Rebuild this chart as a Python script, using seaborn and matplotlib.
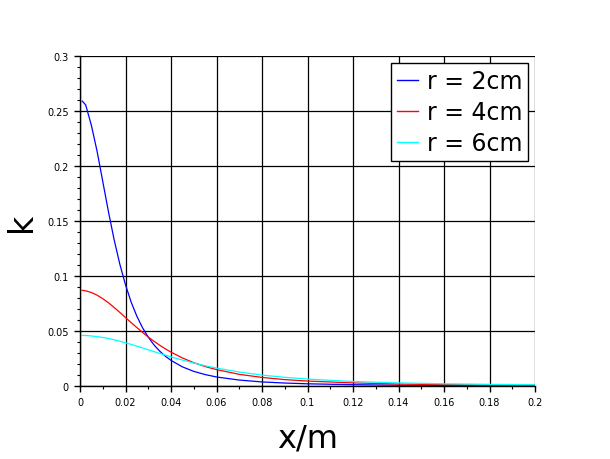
import matplotlib
matplotlib.use("Agg")
import matplotlib.pyplot as plt
import seaborn as sns
import pandas as pd
from matplotlib.ticker import MultipleLocator, FixedLocator, FixedFormatter

# x positions (m)
x_vals = [0.001, 0.0025, 0.005, 0.0075, 0.01, 0.0125, 0.015, 0.0175, 0.02, 0.0225,
          0.025, 0.0275, 0.03, 0.0325, 0.035, 0.0375, 0.04, 0.045, 0.05, 0.055,
          0.06, 0.07, 0.08, 0.09, 0.1, 0.12, 0.14, 0.16, 0.18, 0.2]
k_r2 = [0.259, 0.2555, 0.237, 0.2135, 0.186, 0.1585, 0.133, 0.1108, 0.092, 0.0762,
        0.0634, 0.0529, 0.0444, 0.0374, 0.0318, 0.0271, 0.0233, 0.0174, 0.0133, 0.0104,
        0.0082, 0.0054, 0.0037, 0.0027, 0.0020, 0.0012, 0.0007, 0.0005, 0.00035, 0.00026]
k_r4 = [0.087, 0.0865, 0.085, 0.0826, 0.0794, 0.0757, 0.0714, 0.0669, 0.0622, 0.0576,
        0.0531, 0.0487, 0.0445, 0.0407, 0.0371, 0.0338, 0.0308, 0.0255, 0.0212, 0.0177,
        0.0149, 0.0106, 0.0078, 0.0058, 0.0045, 0.0028, 0.0018, 0.0012, 0.0009, 0.00066]
k_r6 = [0.046, 0.0459, 0.0455, 0.0449, 0.0441, 0.0432, 0.0420, 0.0407, 0.0393, 0.0378,
        0.0362, 0.0346, 0.0329, 0.0313, 0.0296, 0.0281, 0.0265, 0.0236, 0.0209, 0.0184,
        0.0163, 0.0127, 0.0099, 0.0079, 0.0063, 0.0041, 0.0028, 0.0020, 0.0015, 0.0011]
series_names = ["r = 2cm", "r = 4cm", "r = 6cm"]
series_colors = ["#0000ff", "#ff0000", "#00ffff"]

x_ticks = [0, 0.02, 0.04, 0.06, 0.08, 0.1, 0.12, 0.14, 0.16, 0.18, 0.2]
x_tick_labels = ["0", "0.02", "0.04", "0.06", "0.08", "0.1", "0.12", "0.14", "0.16", "0.18", "0.2"]
y_ticks = [0, 0.05, 0.1, 0.15, 0.2, 0.25, 0.3]
y_tick_labels = ["0", "0.05", "0.1", "0.15", "0.2", "0.25", "0.3"]

frames = []
for name, vals in zip(series_names, [k_r2, k_r4, k_r6]):
    frames.append(pd.DataFrame({"x": x_vals, "k": vals, "series": name}))
df = pd.concat(frames, ignore_index=True)

fig = plt.figure(figsize=(6.1, 4.6), dpi=100)
ax = fig.add_axes([80/610, 73/460, 455/610, 330/460])

sns.lineplot(data=df, x="x", y="k", hue="series", palette=series_colors,
             hue_order=series_names, ax=ax, linewidth=0.9, legend=True)

ax.set_xlim(0, 0.2)
ax.set_ylim(0, 0.3)
ax.xaxis.set_major_locator(FixedLocator(x_ticks))
ax.xaxis.set_major_formatter(FixedFormatter(x_tick_labels))
ax.yaxis.set_major_locator(FixedLocator(y_ticks))
ax.yaxis.set_major_formatter(FixedFormatter(y_tick_labels))
ax.xaxis.set_minor_locator(MultipleLocator(0.01))
ax.yaxis.set_minor_locator(MultipleLocator(0.01))
ax.tick_params(which="major", direction="out", length=4, width=1, labelsize=7, colors="black", pad=4)
ax.tick_params(which="minor", direction="out", length=2.2, width=0.8)
ax.grid(True, which="major", color="black", linewidth=0.9)
ax.set_axisbelow(True)
for s in ["top", "right"]:
    ax.spines[s].set_visible(False)
for s in ["left", "bottom"]:
    ax.spines[s].set_color("black")
    ax.spines[s].set_linewidth(1)

ax.set_xlabel("x/m", fontsize=23, labelpad=11)
ax.set_ylabel("k", fontsize=24, labelpad=7)

leg = ax.legend(loc="upper right", fontsize=17, frameon=True, fancybox=False,
                edgecolor="black", framealpha=1, handlelength=0.9, handletextpad=0.35,
                labelspacing=0.3, borderpad=0.25, borderaxespad=0.3)
leg.get_frame().set_linewidth(1)
for line in leg.get_lines():
    line.set_linewidth(1)

fig.savefig("out.png", dpi=100)
